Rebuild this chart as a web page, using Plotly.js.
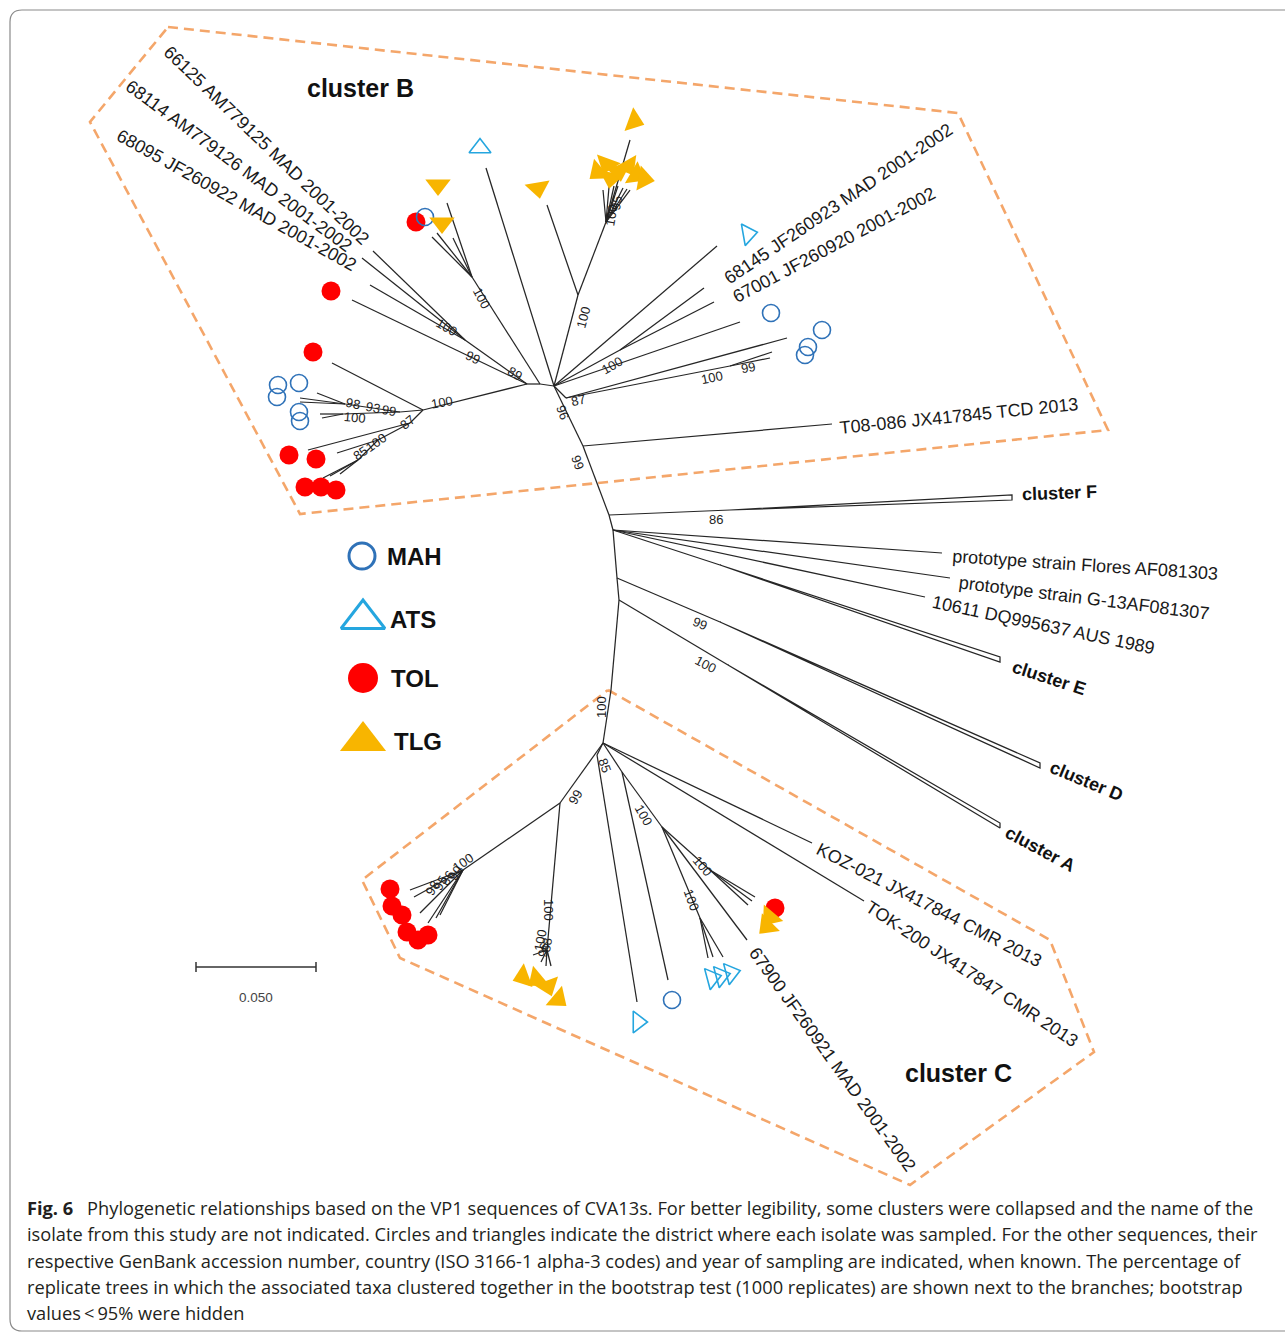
<!DOCTYPE html>
<html><head><meta charset="utf-8">
<script src="https://cdn.plot.ly/plotly-3.0.1.min.js"></script>
<style>html,body{margin:0;padding:0;background:#fff;} #chart{width:1285px;height:1332px;}</style>
</head><body><div id="chart"></div>
<script>
// ===== DATA =====
// tree nodes: [id, x, y] (unrooted-tree layout units)
const backboneNodes = [["R0",554,386],["R1",583,446],["R2",609,515],["R3",613,530],["R4",617,578],["R5",619,600],["R6",611,690],["R7",603,743]];
const backboneEdges = [["R0","R1"],["R1","R2"],["R2","R3"],["R3","R4"],["R4","R5"],["R5","R6"],["R6","R7"]];

const clusterBNodes = [["Bx",540,384],["B1",527,384],["B3",465,340],["BT",472,277],["B100a",578,295],["Btlg",606,222],["B100b",620,350],["B87",566,398],["B99",730,366],
  ["BL0",423,410],["BL1",400,412],["BL2",345,404],["BL4",343,414],["BL5",410,423],["BL6",378,440],["BL7",358,460]];
const clusterBEdges = [["R0","Bx"],["Bx","B1"],["Bx","BT"],["B1","B3"],["B1","BL0"],["R0","B100a"],["B100a","Btlg"],["R0","B100b"],["R0","B87"],["B87","B99"],
  ["BL0","BL1"],["BL1","BL2"],["BL1","BL4"],["BL0","BL5"],["BL5","BL6"],["BL6","BL7"]];

const clusterCNodes = [["C1",597,755],["C2",622,772],["C3",662,827],["C4",700,918],["C5",710,870],["C6",560,803],["C7",547,950],["C8",463,870]];
const clusterCEdges = [["R7","C1"],["R7","C2"],["C2","C3"],["C3","C4"],["C3","C5"],["R7","C6"],["C6","C7"],["C6","C8"]];

// reference sequences: [id, x, y, parent]
const refTaxa = [["T08",832,424,"R1"],["Flo",942,553,"R3"],["G13",950,578,"R3"],["A10611",925,597,"R3"],["KOZ",812,843,"R7"],["TOK",864,901,"R7"],
  ["M67900",747,940,"C3"],["M66125",373,251,"B3"],["M68114",362,258,"B3"],["M68095",370,285,"B3"],["M68145",704,288,"B100b"],["M67001",714,302,"B100b"]];

// collapsed clusters: [name, parent, stemX, stemY, tipX, tipY1, tipY2]
const collapsed = [["F","R2",730,510,1012,495,500],["E","R3",720,565,1000,657,662],["D","R4",720,622,1040,763,768],["A","R5",728,665,1000,823,828]];

// isolates of this study: [parent, tipX, tipY, district, markerX, markerY, markerAngle]
const clusterBIsolates = [
  ["B1",352,300,"TOL",331,291,0],["BT",447,203,"TLG",438,185,180],["BT",432,237,"TOL",416,222,0],["BT",437,233,"MAH",425,217,0],["BT",453,238,"TLG",442,223,180],
  ["R0",486,168,"ATS",480,148,0],["B100a",547,205,"TLG",538,188,170],["Btlg",630,140,"TLG",634,121,110],
  ["Btlg",603,190,"TLG",598,172,230],["Btlg",609,187,"TLG",607,164,200],["Btlg",614,186,"TLG",611,178,190],["Btlg",618,186,"TLG",619,171,170],
  ["Btlg",623,188,"TLG",628,166,150],["Btlg",627,189,"TLG",636,175,120],["Btlg",630,190,"TLG",644,179,100],
  ["R0",717,246,"ATS",748,234,80],["R0",740,322,"MAH",771,313,0],["B87",787,338,"MAH",822,330,0],["B99",772,352,"MAH",808,347,0],["B99",770,358,"MAH",805,355,0],
  ["BL0",332,363,"TOL",313,352,0],["BL2",317,393,"MAH",299,383,0],["BL2",300,398,"MAH",278,385,0],["BL2",300,402,"MAH",277,397,0],
  ["BL4",320,414,"MAH",299,412,0],["BL4",322,418,"MAH",300,421,0],["BL5",308,450,"TOL",289,455,0],["BL6",337,453,"TOL",316,459,0],
  ["BL7",323,478,"TOL",305,487,0],["BL7",330,476,"TOL",321,487,0],["BL7",340,474,"TOL",336,490,0]];
const clusterCIsolates = [
  ["C1",637,1002,"ATS",638,1022,90],["C2",668,980,"MAH",672,1000,0],["C4",708,958,"ATS",712,978,75],["C4",713,957,"ATS",721,976,75],["C4",723,957,"ATS",731,973,75],
  ["C5",755,897,"TOL",775,908,0],["C5",748,905,"TLG",770,917,220],["C5",752,901,"TLG",767,926,225],
  ["C7",533,955,"TLG",523,977,250],["C7",541,962,"TLG",537,979,230],["C7",546,966,"TLG",548,986,160],["C7",551,966,"TLG",558,999,130],
  ["C8",410,890,"TOL",390,889,0],["C8",414,897,"TOL",392,906,0],["C8",420,913,"TOL",402,915,0],["C8",428,923,"TOL",407,932,0],["C8",436,918,"TOL",418,940,0],["C8",440,915,"TOL",428,935,0]];

// bootstrap values: [text, x, y, angle]
const bootstrapLabels = [
  ["100",482,298,62],["100",447,327,30],["99",473,357,25],["89",515,373,30],["100",583,317,-75],["100",611,215,-80],["95",616,203,-80],["100",612,365,-30],
  ["87",578,400,-12],["96",563,412,70],["99",578,462,70],["100",712,377,-12],["99",748,367,-10],["100",442,402,-10],["98",353,403,12],["93",373,407,12],
  ["99",389,410,10],["100",355,417,5],["87",407,422,-40],["85",360,453,-35],["100",376,442,-35],
  ["86",716,519,0],["99",700,623,22],["100",706,664,28],["100",601,707,-90],
  ["85",605,765,70],["99",575,797,-60],["100",644,815,60],["100",703,866,50],["100",692,900,70],["100",463,862,-35],
  ["98",432,888,-60],["95",440,883,-60],["86",447,878,-60],["90",455,873,-60],["100",549,910,90],["100",540,940,-80],["88",546,945,-80],["96",543,950,-80]];

// taxon names: [text, centerX, centerY, angle]
const taxonLabels = [
  ["66125 AM779125 MAD 2001-2002",266,145,44],["68114 AM779126 MAD 2001-2002",239,166,36.4],["68095 JF260922 MAD 2001-2002",236,200,29.2],
  ["68145 JF260923 MAD 2001-2002",838,204,-34.1],["67001 JF260920 2001-2002",834,245,-27.9],["T08-086 JX417845 TCD 2013",959,416,-5.7],
  ["prototype strain Flores AF081303",1085,565,3.8],["prototype strain G-13AF081307",1084,598,7.2],["10611 DQ995637 AUS 1989",1043,625,11.9],
  ["KOZ-021 JX417844 CMR 2013",929,905,27.2],["TOK-200 JX417847 CMR 2013",972,974,33.4],["67900 JF260921 MAD 2001-2002",832,1059,54.2]];
const collapsedLabels = [["cluster F",1059,493,-2],["cluster E",1049,678,18],["cluster D",1086,781,22.6],["cluster A",1040,849,28]];
const groupLabels = [["cluster B",360,88],["cluster C",958,1073]];

// cluster outlines
const clusterBPolyX = [168,958,1108,300,90,168], clusterBPolyY = [27,113,430,514,122,27];
const clusterCPolyX = [608,1050,1094,910,400,362,608], clusterCPolyY = [690,940,1052,1185,958,880,690];

// districts (legend)
const districts = ["MAH","ATS","TOL","TLG"];
const legendX = [362,363,363,363], legendY = [556,619,678,741];
const legendTextX = [414,413,415,418];

// scale bar
const scaleBarX = [196,316], scaleBarY = 967, scaleLabel = "0.050";

const captionLines = [
  "<b>Fig. 6</b>\u2002 Phylogenetic relationships based on the VP1 sequences of CVA13s. For better legibility, some clusters were collapsed and the name of the",
  "isolate from this study are not indicated. Circles and triangles indicate the district where each isolate was sampled. For the other sequences, their",
  "respective GenBank accession number, country (ISO 3166-1 alpha-3 codes) and year of sampling are indicated, when known. The percentage of",
  "replicate trees in which the associated taxa clustered together in the bootstrap test (1000 replicates) are shown next to the branches; bootstrap",
  "values\u2009&lt;\u200995% were hidden"];
const captionY = [1208,1234,1261,1287,1313];

// ===== BUILD =====
const styles = {
  MAH:{symbol:"circle-open", color:"#2f72b8", size:17, lw:1.6, lsize:26, llw:3},
  ATS:{symbol:"triangle-up-open", color:"#25a6df", size:19, lw:1.6, lsize:38, llw:3},
  TOL:{symbol:"circle", color:"#ff0000", size:19, lw:0, lsize:30, llw:0},
  TLG:{symbol:"triangle-up", color:"#f8b500", size:22, lw:0, lsize:40, llw:0}
};
const pos = {};
[backboneNodes, clusterBNodes, clusterCNodes].forEach(g => g.forEach(([id,x,y]) => pos[id] = [x,y]));
refTaxa.forEach(([id,x,y]) => pos[id] = [x,y]);

const ex = [], ey = [];
function seg(a, b){ ex.push(a[0], b[0], null); ey.push(a[1], b[1], null); }
[...backboneEdges, ...clusterBEdges, ...clusterCEdges].forEach(([a,b]) => seg(pos[a], pos[b]));
refTaxa.forEach(([id,x,y,p]) => seg(pos[p], [x,y]));
const isolates = [...clusterBIsolates, ...clusterCIsolates];
isolates.forEach(([p,tx,ty]) => seg(pos[p], [tx,ty]));
collapsed.forEach(([n,p,sx,sy,tx,t1,t2]) => {
  seg(pos[p], [sx,sy]);
  ex.push(sx, tx, tx, sx, null); ey.push(sy, t1, t2, sy, null);
});

const traces = [];
const dash = {color:"#f4a66a", width:2.6, dash:"10px,6px"};
traces.push({x:clusterBPolyX, y:clusterBPolyY, mode:"lines", line:dash, hoverinfo:"skip"});
traces.push({x:clusterCPolyX, y:clusterCPolyY, mode:"lines", line:dash, hoverinfo:"skip"});
traces.push({x:ex, y:ey, mode:"lines", line:{color:"#262626", width:1.25}, hoverinfo:"skip"});

["TOL","MAH","ATS","TLG"].forEach(d => {
  const pts = isolates.filter(r => r[3] === d);
  const s = styles[d];
  traces.push({x:pts.map(r=>r[4]), y:pts.map(r=>r[5]), mode:"markers", hoverinfo:"skip",
    marker:{symbol:s.symbol, color:s.color, size:s.size, angle:pts.map(r=>r[6]), line:{color:s.color, width:s.lw}}});
});
// legend glyphs
districts.forEach((d,i) => {
  const s = styles[d];
  traces.push({x:[legendX[i]], y:[legendY[i]], mode:"markers", hoverinfo:"skip",
    marker:{symbol:s.symbol, color:s.color, size:s.lsize, line:{color:s.color, width:s.llw}}});
});
// scale bar
traces.push({x:[scaleBarX[0],scaleBarX[1],null,scaleBarX[0],scaleBarX[0],null,scaleBarX[1],scaleBarX[1]],
  y:[scaleBarY,scaleBarY,null,scaleBarY-5,scaleBarY+5,null,scaleBarY-5,scaleBarY+5], mode:"lines", line:{color:"#333",width:1.5}, hoverinfo:"skip"});

const ann = [];
const treeFont = "Liberation Sans, Arial, sans-serif";
taxonLabels.forEach(([t,x,y,a]) => ann.push({x, y, text:t, textangle:a, showarrow:false, xanchor:"center", yanchor:"middle", font:{family:treeFont, size:18, color:"#1a1a1a"}}));
collapsedLabels.forEach(([t,x,y,a]) => ann.push({x, y, text:"<b>"+t+"</b>", textangle:a, showarrow:false, xanchor:"center", yanchor:"middle", font:{family:treeFont, size:18, color:"#111"}}));
groupLabels.forEach(([t,x,y]) => ann.push({x, y, text:"<b>"+t+"</b>", showarrow:false, xanchor:"center", yanchor:"middle", font:{family:treeFont, size:25, color:"#111"}}));
bootstrapLabels.forEach(([t,x,y,a]) => ann.push({x, y, text:t, textangle:a, showarrow:false, xanchor:"center", yanchor:"middle", font:{family:treeFont, size:13, color:"#1e1e1e"}}));
districts.forEach((d,i) => ann.push({x:legendTextX[i], y:legendY[i], text:"<b>"+d+"</b>", showarrow:false, xanchor:"center", yanchor:"middle", font:{family:treeFont, size:24, color:"#111"}}));
ann.push({x:(scaleBarX[0]+scaleBarX[1])/2, y:scaleBarY+30, text:scaleLabel, showarrow:false, xanchor:"center", yanchor:"middle", font:{family:treeFont, size:13.5, color:"#444"}});

// caption font fitted to the reference line width
function tw(txt, font){ const c = document.createElement("canvas").getContext("2d"); c.font = font; return c.measureText(txt).width; }
const capFam = "'Open Sans'";
const w1 = tw("Fig. 6", "bold 100px " + capFam) + tw("\u2002 Phylogenetic relationships based on the VP1 sequences of CVA13s. For better legibility, some clusters were collapsed and the name of the", "100px " + capFam);
const capSize = Math.min(19, 100 * 1227 / w1);
captionLines.forEach((t,i) => ann.push({x:25, y:captionY[i], text:t, showarrow:false, xanchor:"left", yanchor:"middle", font:{family:"Open Sans, sans-serif", size:capSize, color:"#231f20"}}));

const layout = {
  width:1285, height:1332, margin:{l:0,r:0,t:0,b:0}, showlegend:false,
  paper_bgcolor:"#fff", plot_bgcolor:"#fff",
  xaxis:{range:[0,1285], visible:false, fixedrange:true},
  yaxis:{range:[1332,0], visible:false, fixedrange:true},
  annotations:ann,
  shapes:[{type:"path", xref:"x", yref:"y", path:"M 1295,10 H 22 Q 10,10 10,22 V 1319 Q 10,1331 22,1331 H 1295", line:{color:"#8a8a8a", width:1.2}}]
};
Plotly.newPlot("chart", traces, layout, {staticPlot:true, displayModeBar:false});
</script></body></html>
